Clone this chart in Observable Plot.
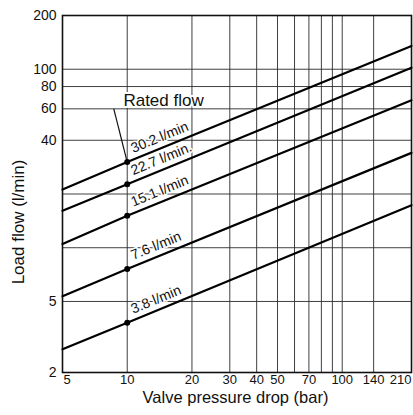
<!DOCTYPE html>
<html><head><meta charset="utf-8">
<script src="https://cdn.jsdelivr.net/npm/d3@7"></script>
<script src="https://cdn.jsdelivr.net/npm/@observablehq/plot@0.6"></script>
<style>body{margin:0;background:#fff;} svg{display:block}</style>
</head><body><div id="chart"></div>
<script>
// Rated flows (l/min) at 10 bar, and series labels
const ratedFlows = [30.2, 22.7, 15.1, 7.6, 3.8];
const seriesLabels = ["30.2 l/min", "22.7 l/min.", "15.1 l/min", "7.6 l/min", "3.8 l/min"];
// Pressure drops (bar) where each line is read
const pressures = [5, 10, 210];
const flowAt5 = [21.2, 16.1, 10.5, 5.35, 2.7];
const flowAt10 = [30.2, 22.7, 15.1, 7.6, 3.8];
const flowAt210 = [135, 102, 67, 34, 17.3];
// Axes
const xGrid = [5, 10, 20, 30, 40, 50, 60, 70, 80, 90, 100, 140, 210];
const xTicks = [5, 10, 20, 30, 40, 50, 70, 100, 140, 210];
const yGrid = [2, 5, 10, 20, 40, 60, 80, 100, 200];
const yTicks = [2, 5, 40, 60, 80, 100, 200];
const xTitle = "Valve pressure drop (bar)";
const yTitle = "Load flow (l/min)";
// Annotation (data coordinates)
const ratedText = "Rated flow";
const ratedTextAt = {p: 9.6, q: 62.6};
const leaderFrom = {p: 8.66, q: 60};
const leaderTo = {p: 10, q: 30.2};

const rows = [];
const byPressure = [flowAt5, flowAt10, flowAt210];
ratedFlows.forEach((r, i) => {
  pressures.forEach((p, j) => rows.push({series: seriesLabels[i], p, q: byPressure[j][i]}));
});

const font = "'Liberation Sans', Arial, Helvetica, sans-serif";
const xTickOpts = {x: d => d, text: d => String(d), frameAnchor: "bottom", lineAnchor: "top", dy: 2, fontSize: 13, fill: "#111"};

const chart = Plot.plot({
  width: 413, height: 415,
  marginTop: 15, marginBottom: 43, marginLeft: 62, marginRight: 2,
  x: {type: "log", domain: [5, 210], axis: null},
  y: {type: "log", domain: [2, 200], axis: null},
  style: {fontFamily: font, color: "#111", background: "white"},
  marks: [
    Plot.ruleX(xGrid, {stroke: "#2a2a2a", strokeWidth: 0.9}),
    Plot.ruleY(yGrid, {stroke: "#2a2a2a", strokeWidth: 0.9}),
    Plot.frame({stroke: "#111", strokeWidth: 1.6}),
    Plot.text(xTicks.slice(1, -1), {...xTickOpts, textAnchor: "middle"}),
    Plot.text([xTicks[0]], {...xTickOpts, textAnchor: "start", dx: 1}),
    Plot.text([xTicks[xTicks.length - 1]], {...xTickOpts, textAnchor: "end"}),
    Plot.text(yTicks, {y: d => d, text: d => String(d), frameAnchor: "left", textAnchor: "end", lineAnchor: "middle", dx: -6, fontSize: 14, fill: "#111"}),
    Plot.text(ratedFlows, {
      x: () => 10, y: d => d, text: (d, i) => seriesLabels[i],
      rotate: -22.4, textAnchor: "start", lineAnchor: "bottom", dx: 6, dy: -9,
      fontSize: 14, fill: "#111", stroke: "white", strokeWidth: 3
    }),
    Plot.link([leaderFrom], {x1: "p", y1: "q", x2: () => leaderTo.p, y2: () => leaderTo.q, stroke: "#111", strokeWidth: 1.2}),
    Plot.text([ratedText], {
      x: () => ratedTextAt.p, y: () => ratedTextAt.q, text: d => d,
      textAnchor: "start", lineAnchor: "bottom", fontSize: 17, fill: "#111", stroke: "white", strokeWidth: 4
    }),
    Plot.line(rows, {x: "p", y: "q", z: "series", stroke: "#000", strokeWidth: 2.2}),
    Plot.dot(ratedFlows, {x: () => 10, y: d => d, r: 3, fill: "#000"}),
    Plot.text([yTitle], {frameAnchor: "left", textAnchor: "middle", lineAnchor: "middle", rotate: -90, dx: -44, dy: 28, fontSize: 17, fill: "#111"}),
    Plot.text([xTitle], {frameAnchor: "bottom", textAnchor: "middle", lineAnchor: "bottom", dy: 30, dx: -1.5, fontSize: 16.5, fill: "#111"})
  ]
});
document.getElementById("chart").appendChild(chart);
</script>
</body></html>
